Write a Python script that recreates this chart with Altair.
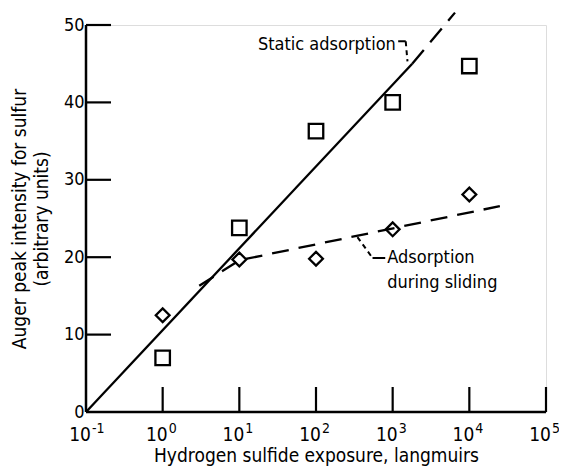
import altair as alt
import pandas as pd

# ---- data ----
exposure = [1, 10, 100, 1000, 10000]
static_vals = [7.0, 23.8, 36.3, 40.0, 44.7]
sliding_vals = [12.5, 19.7, 19.8, 23.6, 28.1]

static_fit_x = [0.1, 1800]
static_fit_y = [0.0, 45.0]
static_ext_x = [1800, 6500]
static_ext_y = [45.0, 51.6]
sliding_fit_x = [3.0, 10, 25000]
sliding_fit_y = [16.3, 19.6, 26.6]

x_ticks = [1, 10, 100, 1000, 10000, 100000]
x_label_vals = [0.1, 1, 10, 100, 1000, 10000, 100000]
x_label_exp = ["-1", "0", "1", "2", "3", "4", "5"]
y_ticks = [10, 20, 30, 40, 50]

FONT = "DejaVu Sans Condensed"
W, H = 460, 387

xs = alt.Scale(type="log", domain=[0.1, 100000], nice=False)
ys = alt.Scale(domain=[0, 50], nice=False)

pts_static = pd.DataFrame({"x": exposure, "y": static_vals})
pts_sliding = pd.DataFrame({"x": exposure, "y": sliding_vals})

base_axis_x = alt.Axis(labels=False, ticks=False, grid=False, domain=False,
                       title="Hydrogen sulfide exposure, langmuirs",
                       titleFont=FONT, titleFontSize=19, titleFontWeight="normal",
                       titleColor="black", titlePadding=34)
base_axis_y = alt.Axis(values=y_ticks + [0], labelFont=FONT, labelFontSize=18,
                       labelColor="black", ticks=False, grid=False, domain=False,
                       labelPadding=2,
                       title=["Auger peak intensity for sulfur", "(arbitrary units)"],
                       titleFont=FONT, titleFontSize=19, titleFontWeight="normal",
                       titleColor="black", titlePadding=12, titleLineHeight=22)

sq = alt.Chart(pts_static).mark_point(shape="square", size=210, filled=False,
                                       color="black", strokeWidth=2.3, opacity=1).encode(
    x=alt.X("x:Q", scale=xs, axis=base_axis_x),
    y=alt.Y("y:Q", scale=ys, axis=base_axis_y))

dm = alt.Chart(pts_sliding).mark_point(shape="diamond", size=190, filled=False,
                                        color="black", strokeWidth=2.3, opacity=1).encode(
    x=alt.X("x:Q", scale=xs), y=alt.Y("y:Q", scale=ys))

fit1 = alt.Chart(pd.DataFrame({"x": static_fit_x, "y": static_fit_y})).mark_line(
    color="black", strokeWidth=2.3, clip=False).encode(
    x=alt.X("x:Q", scale=xs), y=alt.Y("y:Q", scale=ys))
fit1b = alt.Chart(pd.DataFrame({"x": static_ext_x, "y": static_ext_y})).mark_line(
    color="black", strokeWidth=2.3, strokeDash=[18, 10], clip=False).encode(
    x=alt.X("x:Q", scale=xs), y=alt.Y("y:Q", scale=ys))
fit2 = alt.Chart(pd.DataFrame({"x": sliding_fit_x, "y": sliding_fit_y})).mark_line(
    color="black", strokeWidth=2.3, strokeDash=[17, 10], clip=False).encode(
    x=alt.X("x:Q", scale=xs), y=alt.Y("y:Q", scale=ys))

# axes lines
x_axis_line = alt.Chart(pd.DataFrame({"x": [0.1], "x2": [100000]})).mark_rule(
    color="black", strokeWidth=2.5).encode(
    x=alt.X("x:Q", scale=xs), x2="x2:Q", y=alt.value(H))
y_axis_line = alt.Chart(pd.DataFrame({"y": [0], "y2": [50]})).mark_rule(
    color="black", strokeWidth=2.5).encode(
    y=alt.Y("y:Q", scale=ys), y2="y2:Q", x=alt.value(0))

# inward ticks
xt = alt.Chart(pd.DataFrame({"x": x_ticks})).mark_rule(color="black", strokeWidth=2.2).encode(
    x=alt.X("x:Q", scale=xs), y=alt.value(H), y2=alt.value(H - 25))
yt = alt.Chart(pd.DataFrame({"y": y_ticks})).mark_rule(color="black", strokeWidth=2.2).encode(
    y=alt.Y("y:Q", scale=ys), x=alt.value(0), x2=alt.value(25))

# x tick labels as 10 with exponent
lab_df = pd.DataFrame({"x": x_label_vals, "e": x_label_exp})
lab10 = alt.Chart(lab_df).mark_text(text="10", font=FONT, fontSize=19, align="right",
                                    baseline="alphabetic", dx=5, color="black").encode(
    x=alt.X("x:Q", scale=xs), y=alt.value(H + 29))
labexp = alt.Chart(lab_df).mark_text(font=FONT, fontSize=14, align="left",
                                     baseline="alphabetic", dx=6, color="black").encode(
    x=alt.X("x:Q", scale=xs), y=alt.value(H + 21), text="e:N")

# annotations
ann_static = alt.Chart(pd.DataFrame({"x": [1100], "y": [47.4], "t": ["Static adsorption"]})).mark_text(
    font=FONT, fontSize=18, align="right", baseline="middle", color="black").encode(
    x=alt.X("x:Q", scale=xs), y=alt.Y("y:Q", scale=ys), text="t:N")
lead_s1 = alt.Chart(pd.DataFrame({"x": [1180, 1480], "y": [47.9, 47.9]})).mark_line(
    color="black", strokeWidth=2).encode(x=alt.X("x:Q", scale=xs), y=alt.Y("y:Q", scale=ys))
lead_s2 = alt.Chart(pd.DataFrame({"x": [1480, 1560], "y": [47.9, 45.3]})).mark_line(
    color="black", strokeWidth=2, strokeDash=[5, 4]).encode(x=alt.X("x:Q", scale=xs), y=alt.Y("y:Q", scale=ys))

ann_slide = alt.Chart(pd.DataFrame({"x": [850, 850], "y": [19.9, 16.7],
                                    "t": ["Adsorption", "during sliding"]})).mark_text(
    font=FONT, fontSize=18, align="left", baseline="middle", color="black").encode(
    x=alt.X("x:Q", scale=xs), y=alt.Y("y:Q", scale=ys), text="t:N")
lead_d1 = alt.Chart(pd.DataFrame({"x": [347, 546], "y": [22.6, 19.9]})).mark_line(
    color="black", strokeWidth=2, strokeDash=[5, 4]).encode(x=alt.X("x:Q", scale=xs), y=alt.Y("y:Q", scale=ys))
lead_d2 = alt.Chart(pd.DataFrame({"x": [546, 800], "y": [19.9, 19.9]})).mark_line(
    color="black", strokeWidth=2).encode(x=alt.X("x:Q", scale=xs), y=alt.Y("y:Q", scale=ys))

chart = alt.layer(sq, dm, fit1, fit1b, fit2, x_axis_line, y_axis_line, xt, yt,
                  lab10, labexp, ann_static, lead_s1, lead_s2, ann_slide, lead_d1, lead_d2).properties(
    width=W, height=H,
    autosize=alt.AutoSizeParams(type="none"),
    padding={"left": 78, "top": 17, "right": 13, "bottom": 58},
).configure_view(stroke=None).configure(background="white")

chart.save("out.html", embed_options={"renderer": "svg", "actions": False})
